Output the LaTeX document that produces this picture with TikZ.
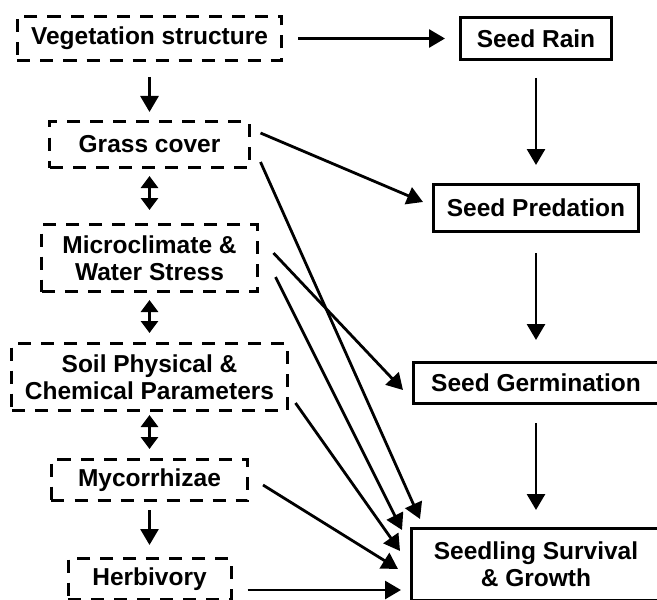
\documentclass[tikz,border=0pt]{standalone}
\usepackage{fontspec}
\setmainfont{Liberation Sans}
\usetikzlibrary{arrows.meta, positioning}

\begin{document}
\begin{tikzpicture}[
    node distance=25pt and 88pt,
    factor/.style={rectangle, draw, dash pattern=on 6.5pt off 5pt, line width=1.5pt, align=center, inner sep=2pt},
    stage/.style={rectangle, draw, line width=1.5pt, align=center, inner sep=2pt},
    arrow/.style={-{Triangle[length=8pt,width=9pt]}, line width=1.4pt},
    both/.style={{Triangle[length=6pt,width=8.5pt]}-{Triangle[length=6pt,width=8.5pt]}, line width=1.4pt},
    font=\bfseries\fontsize{12.25}{13.5}\selectfont
]
\useasboundingbox (-74.75pt,-280.25pt) rectangle (253.75pt,19.25pt);
\clip (-74.75pt,-280.25pt) rectangle (253.75pt,19.25pt);

% left column: factors
\node[factor, minimum width=132pt, minimum height=22pt] (veg) at (0,0) {Vegetation structure};
\node[factor, minimum width=99.5pt, minimum height=23pt, below=29pt of veg] (grass) {Grass cover};
\node[factor, minimum width=107.5pt, minimum height=33.5pt, below=27pt of grass] (micro) {Microclimate \&\\Water Stress};
\node[factor, minimum width=137.5pt, minimum height=33.5pt, below=24.5pt of micro] (soil) {Soil Physical \&\\Chemical Parameters};
\node[factor, minimum width=98pt, minimum height=20.5pt, below=23pt of soil] (myc) {Mycorrhizae};
\node[factor, minimum width=81.5pt, minimum height=20.5pt, below=27.5pt of myc] (herb) {Herbivory};

% right column: stages
\node[stage, minimum width=75.5pt, minimum height=21pt, right=of veg] (rain) {Seed Rain};
\node[stage, minimum width=102.5pt, minimum height=23.5pt, below=61pt of rain] (pred) {Seed Predation};
\node[stage, minimum width=122.5pt, minimum height=20.5pt, below=64pt of pred] (germ) {Seed Germination};
\node[stage, minimum width=124.5pt, minimum height=36pt, below=61pt of germ] (seedling) {Seedling Survival\\\& Growth};

% links between factors
\draw[arrow, shorten <=7.5pt, shorten >=7pt] (veg) -- (rain);
\draw[arrow, shorten <=7.5pt, shorten >=4pt] (veg) -- (grass);
\draw[both, shorten <=3.5pt, shorten >=6.5pt] (grass) -- (micro);
\draw[both, shorten <=3.5pt, shorten >=4.5pt] (micro) -- (soil);
\draw[both, shorten <=1.5pt, shorten >=4.5pt] (soil) -- (myc);
\draw[arrow, shorten <=4pt, shorten >=6pt] (myc) -- (herb);

% stage sequence
\draw[arrow, shorten <=8.5pt, shorten >=9pt] (rain) -- (pred);
\draw[arrow, shorten <=10pt, shorten >=10.5pt] (pred) -- (germ);
\draw[arrow, shorten <=9pt, shorten >=8.5pt] (germ) -- (seedling);

% factors acting on stages
\draw[arrow] ([xshift=5pt,yshift=5.75pt]grass.east) -- ([xshift=-4.5pt,yshift=3pt]pred.west);
\draw[arrow] ([xshift=5pt,yshift=-8.75pt]grass.east) -- ([xshift=5pt,yshift=4pt]seedling.north west);
\draw[arrow] ([xshift=7.5pt,yshift=2.5pt]micro.east) -- ([xshift=-4.5pt,yshift=-3.5pt]germ.west);
\draw[arrow] ([xshift=8.5pt,yshift=-9.5pt]micro.east) -- ([xshift=-4pt,yshift=-1.5pt]seedling.north west);
\draw[arrow] ([xshift=3.5pt,yshift=4.5pt]soil.south east) -- ([xshift=-5pt,yshift=-12pt]seedling.north west);
\draw[arrow] ([xshift=7pt,yshift=-2.5pt]myc.east) -- ([xshift=-6pt,yshift=-21pt]seedling.north west);
\draw[arrow] ([xshift=7.5pt,yshift=-16.5pt]herb.north east) -- ([xshift=-4.5pt,yshift=-31.5pt]seedling.north west);
\end{tikzpicture}
\end{document}
